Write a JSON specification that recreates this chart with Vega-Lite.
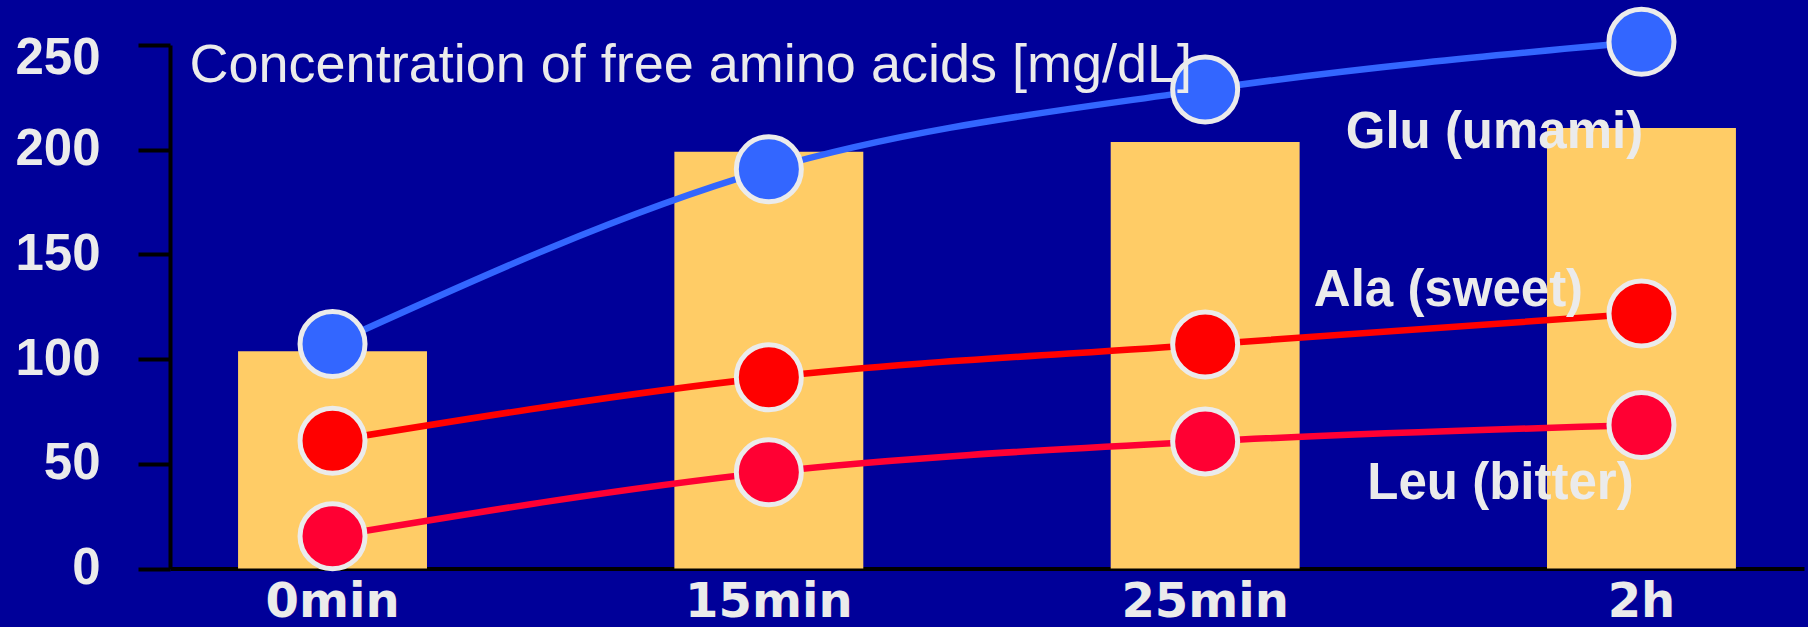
{
  "$schema": "https://vega.github.io/schema/vega-lite/v6.json",
  "width": 1634,
  "height": 523.5,
  "autosize": "none",
  "padding": {"left": 170, "top": 45, "right": 4, "bottom": 58.5},
  "background": "#000099",
  "config": {"view": {"stroke": null}, "font": "Liberation Sans"},
  "datasets": {
    "totals": [
      {"time": "0min", "total": 103.8},
      {"time": "15min", "total": 199.0},
      {"time": "25min", "total": 203.7},
      {"time": "2h", "total": 210.4}
    ],
    "acids": [
      {"time": "0min", "acid": "Glu", "value": 107.2},
      {"time": "15min", "acid": "Glu", "value": 190.7},
      {"time": "25min", "acid": "Glu", "value": 228.7},
      {"time": "2h", "acid": "Glu", "value": 251.5},
      {"time": "0min", "acid": "Ala", "value": 61.0},
      {"time": "15min", "acid": "Ala", "value": 91.3},
      {"time": "25min", "acid": "Ala", "value": 107.0},
      {"time": "2h", "acid": "Ala", "value": 121.8},
      {"time": "0min", "acid": "Leu", "value": 15.4},
      {"time": "15min", "acid": "Leu", "value": 46.0},
      {"time": "25min", "acid": "Leu", "value": 60.7},
      {"time": "2h", "acid": "Leu", "value": 68.5}
    ]
  },
  "layer": [
    {
      "data": {"name": "totals"},
      "mark": {"type": "bar", "color": "#FFCC66"},
      "encoding": {
        "x": {
          "field": "time",
          "type": "nominal",
          "sort": ["0min", "15min", "25min", "2h"],
          "scale": {"paddingInner": 0.567, "paddingOuter": 0.156},
          "axis": {
            "title": null,
            "labelAngle": 0,
            "ticks": false,
            "tickSize": 0,
            "domainColor": "#000000",
            "domainWidth": 4,
            "labelFont": "DejaVu Sans",
            "labelFontWeight": "bold",
            "labelFontSize": 48,
            "labelColor": "#EBEBEB",
            "labelBaseline": "top",
            "labelPadding": 10
          }
        },
        "y": {
          "field": "total",
          "type": "quantitative",
          "scale": {"domain": [0, 250], "nice": false},
          "axis": {
            "title": null,
            "values": [0, 50, 100, 150, 200, 250],
            "grid": false,
            "domainColor": "#000000",
            "domainWidth": 4,
            "tickColor": "#000000",
            "tickWidth": 4,
            "tickSize": 32,
            "labelFont": "Liberation Sans",
            "labelFontWeight": "bold",
            "labelFontSize": 51,
            "labelColor": "#EBEBEB",
            "labelPadding": 38,
            "labelOffset": {"condition": {"test": "datum.value == 250", "value": 13}, "value": 0}
          }
        }
      }
    },
    {
      "data": {"name": "acids"},
      "mark": {"type": "line", "interpolate": "monotone", "strokeWidth": 6.5},
      "encoding": {
        "x": {"field": "time", "type": "nominal", "sort": ["0min", "15min", "25min", "2h"]},
        "y": {"field": "value", "type": "quantitative"},
        "color": {
          "field": "acid",
          "type": "nominal",
          "scale": {"domain": ["Glu", "Ala", "Leu"], "range": ["#3366FF", "#FF0000", "#FF0033"]},
          "legend": null
        }
      }
    },
    {
      "data": {"name": "acids"},
      "mark": {"type": "circle", "size": 4225, "stroke": "#EBEBEB", "strokeWidth": 5, "opacity": 1},
      "encoding": {
        "x": {"field": "time", "type": "nominal", "sort": ["0min", "15min", "25min", "2h"]},
        "y": {"field": "value", "type": "quantitative"},
        "fill": {
          "field": "acid",
          "type": "nominal",
          "scale": {"domain": ["Glu", "Ala", "Leu"], "range": ["#3366FF", "#FF0000", "#FF0033"]},
          "legend": null
        }
      }
    },
    {
      "data": {"values": [{"label": "Concentration of free amino acids [mg/dL]"}]},
      "mark": {"type": "text", "font": "Liberation Sans", "fontWeight": "normal", "fontSize": 54, "color": "#EBEBEB", "align": "left", "baseline": "alphabetic", "dx": -143, "dy": 37},
      "encoding": {
        "x": {"datum": "0min", "type": "nominal"},
        "y": {"datum": 250, "type": "quantitative"},
        "text": {"field": "label"}
      }
    },
    {
      "data": {"values": [{"label": "Glu (umami)", "time": "2h", "pos": 201.0}]},
      "mark": {"type": "text", "font": "Liberation Sans", "fontWeight": "bold", "fontSize": 51, "color": "#EBEBEB", "align": "center", "baseline": "alphabetic", "dx": -147},
      "encoding": {
        "x": {"field": "time", "type": "nominal"},
        "y": {"field": "pos", "type": "quantitative"},
        "text": {"field": "label"}
      }
    },
    {
      "data": {"values": [{"label": "Ala (sweet)", "time": "2h", "pos": 125.3}]},
      "mark": {"type": "text", "font": "Liberation Sans", "fontWeight": "bold", "fontSize": 51, "color": "#EBEBEB", "align": "center", "baseline": "alphabetic", "dx": -193},
      "encoding": {
        "x": {"field": "time", "type": "nominal"},
        "y": {"field": "pos", "type": "quantitative"},
        "text": {"field": "label"}
      }
    },
    {
      "data": {"values": [{"label": "Leu (bitter)", "time": "2h", "pos": 33.2}]},
      "mark": {"type": "text", "font": "Liberation Sans", "fontWeight": "bold", "fontSize": 51, "color": "#EBEBEB", "align": "center", "baseline": "alphabetic", "dx": -141},
      "encoding": {
        "x": {"field": "time", "type": "nominal"},
        "y": {"field": "pos", "type": "quantitative"},
        "text": {"field": "label"}
      }
    }
  ]
}
